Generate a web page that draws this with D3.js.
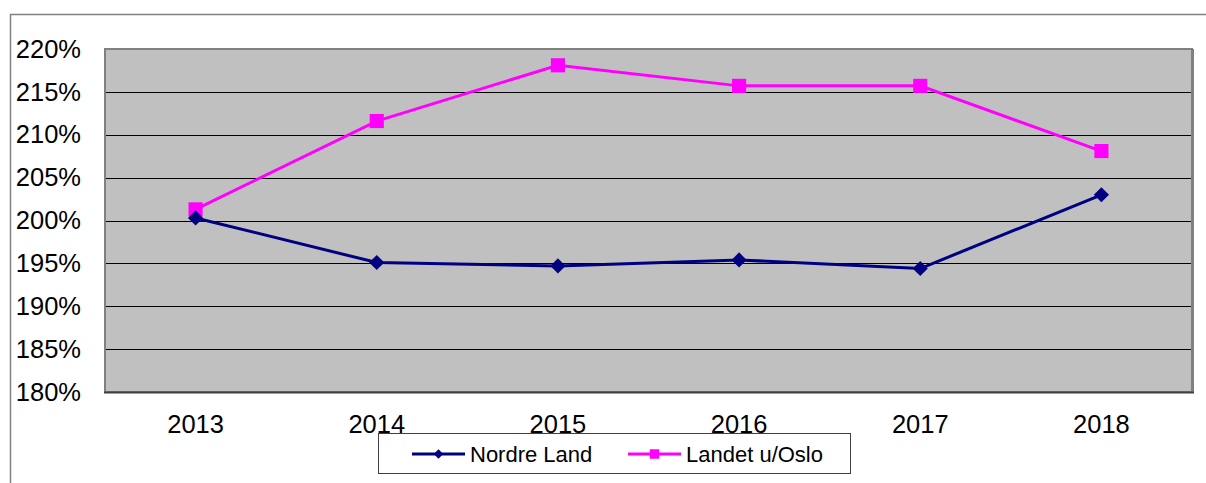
<!DOCTYPE html>
<html>
<head>
<meta charset="utf-8">
<script src="https://cdn.jsdelivr.net/npm/d3@7"></script>
<style>
  body { margin: 0; background: #fff; }
  svg { display: block; font-family: "Liberation Sans", Arial, sans-serif; }
</style>
</head>
<body>
<svg class="chart"></svg>
<script>
// values, in percent
var years = ['2013', '2014', '2015', '2016', '2017', '2018']
var nordreLand = [200.3, 195.1, 194.7, 195.4, 194.4, 203.0]
var landetUOslo = [201.3, 211.6, 218.1, 215.7, 215.7, 208.1]
var yTicks = [180, 185, 190, 195, 200, 205, 210, 215, 220]

var width = 1206, height = 483
var plot = { left: 105, top: 49, right: 1192, bottom: 392 }

var svg = d3.select('.chart')
    .attr('width', width)
    .attr('height', height)

// outer frame (only top and left are visible in the picture)
svg.append('rect')
    .attr('x', 10.5).attr('y', 14.5)
    .attr('width', 1220).attr('height', 500)
    .attr('fill', 'none')
    .attr('stroke', '#808080')
    .attr('stroke-width', 1.5)

var x = d3.scaleBand()
    .domain(years)
    .range([plot.left, plot.right])

var y = d3.scaleLinear()
    .domain([180, 220])
    .range([plot.bottom, plot.top])

// plot background
svg.append('rect')
    .attr('x', plot.left).attr('y', plot.top)
    .attr('width', plot.right - plot.left)
    .attr('height', plot.bottom - plot.top)
    .attr('fill', '#c0c0c0')

// gridlines
svg.append('g')
    .selectAll('line')
    .data(yTicks.slice(1, -1))
  .enter().append('line')
    .attr('x1', plot.left).attr('x2', plot.right)
    .attr('y1', function(d) { return Math.round(y(d)) + 0.5 })
    .attr('y2', function(d) { return Math.round(y(d)) + 0.5 })
    .attr('stroke', '#000')
    .attr('stroke-width', 1.2)

// plot border, darker on the bottom
svg.append('rect')
    .attr('x', plot.left).attr('y', plot.top)
    .attr('width', plot.right - plot.left)
    .attr('height', plot.bottom - plot.top)
    .attr('fill', 'none')
    .attr('stroke', '#808080')
    .attr('stroke-width', 2)
svg.append('line')
    .attr('x1', plot.right + 1).attr('x2', plot.right + 1)
    .attr('y1', plot.top).attr('y2', plot.bottom + 1)
    .attr('stroke', '#808080').attr('stroke-width', 2)
svg.append('line')
    .attr('x1', plot.left - 1).attr('x2', plot.right + 2)
    .attr('y1', plot.bottom + 0.5).attr('y2', plot.bottom + 0.5)
    .attr('stroke', '#404040').attr('stroke-width', 2)

// y axis labels
var yAxis = d3.axisLeft(y)
    .tickValues(yTicks)
    .tickSize(0)
    .tickFormat(function(d) { return d + '%' })
var gy = svg.append('g')
    .attr('transform', 'translate(81, 0)')
    .call(yAxis)
gy.select('.domain').remove()
gy.selectAll('text')
    .attr('x', 0)
    .attr('font-size', 25.5)
    .attr('font-family', '"Liberation Sans", Arial, sans-serif')
    .attr('fill', '#000')

// x axis labels
var xAxis = d3.axisBottom(x).tickSize(0)
var gx = svg.append('g')
    .call(xAxis)
gx.select('.domain').remove()
gx.selectAll('text')
    .attr('y', 433)
    .attr('dy', 0)
    .attr('font-size', 25.5)
    .attr('font-family', '"Liberation Sans", Arial, sans-serif')
    .attr('fill', '#000')

var cx = function(i) { return x(years[i]) + x.bandwidth() / 2 }

var line = d3.line()
    .x(function(d, i) { return cx(i) })
    .y(function(d) { return y(d) })

// diamonds are squares turned 45 degrees
var series = [
  { name: 'Nordre Land', values: nordreLand, color: '#000080', rotate: 45, size: 115, legendSize: 45 },
  { name: 'Landet u/Oslo', values: landetUOslo, color: '#ff00ff', rotate: 0, size: 200, legendSize: 90 }
]

// draw Landet first so Nordre Land sits on top like in the picture
series.slice().reverse().forEach(function(s) {
  svg.append('path')
      .datum(s.values)
      .attr('d', line)
      .attr('fill', 'none')
      .attr('stroke', s.color)
      .attr('stroke-width', 3)
})
series.slice().reverse().forEach(function(s) {
  svg.append('g')
      .selectAll('path')
      .data(s.values)
    .enter().append('path')
      .attr('d', d3.symbol().type(d3.symbolSquare).size(s.size))
      .attr('transform', function(d, i) { return `translate(${cx(i)}, ${y(d)}) rotate(${s.rotate})` })
      .attr('fill', s.color)
})

// legend
var legend = svg.append('g')
legend.append('rect')
    .attr('x', 378.5).attr('y', 433.5)
    .attr('width', 472).attr('height', 40)
    .attr('fill', '#fff')
    .attr('stroke', '#404040')
    .attr('stroke-width', 1)

var legendItems = [
  { x1: 412, x2: 465, tx: 470 },
  { x1: 628, x2: 681, tx: 686 }
]
series.forEach(function(s, i) {
  var it = legendItems[i]
  var g = legend.append('g')
  g.append('line')
      .attr('x1', it.x1).attr('x2', it.x2)
      .attr('y1', 454).attr('y2', 454)
      .attr('stroke', s.color)
      .attr('stroke-width', 3)
  g.append('path')
      .attr('d', d3.symbol().type(d3.symbolSquare).size(s.legendSize))
      .attr('transform', `translate(${(it.x1 + it.x2) / 2}, 454) rotate(${s.rotate})`)
      .attr('fill', s.color)
  g.append('text')
      .attr('x', it.tx).attr('y', 454)
      .attr('dy', '0.35em')
      .attr('font-size', 22)
      .attr('fill', '#000')
      .text(s.name)
})
</script>
</body>
</html>
